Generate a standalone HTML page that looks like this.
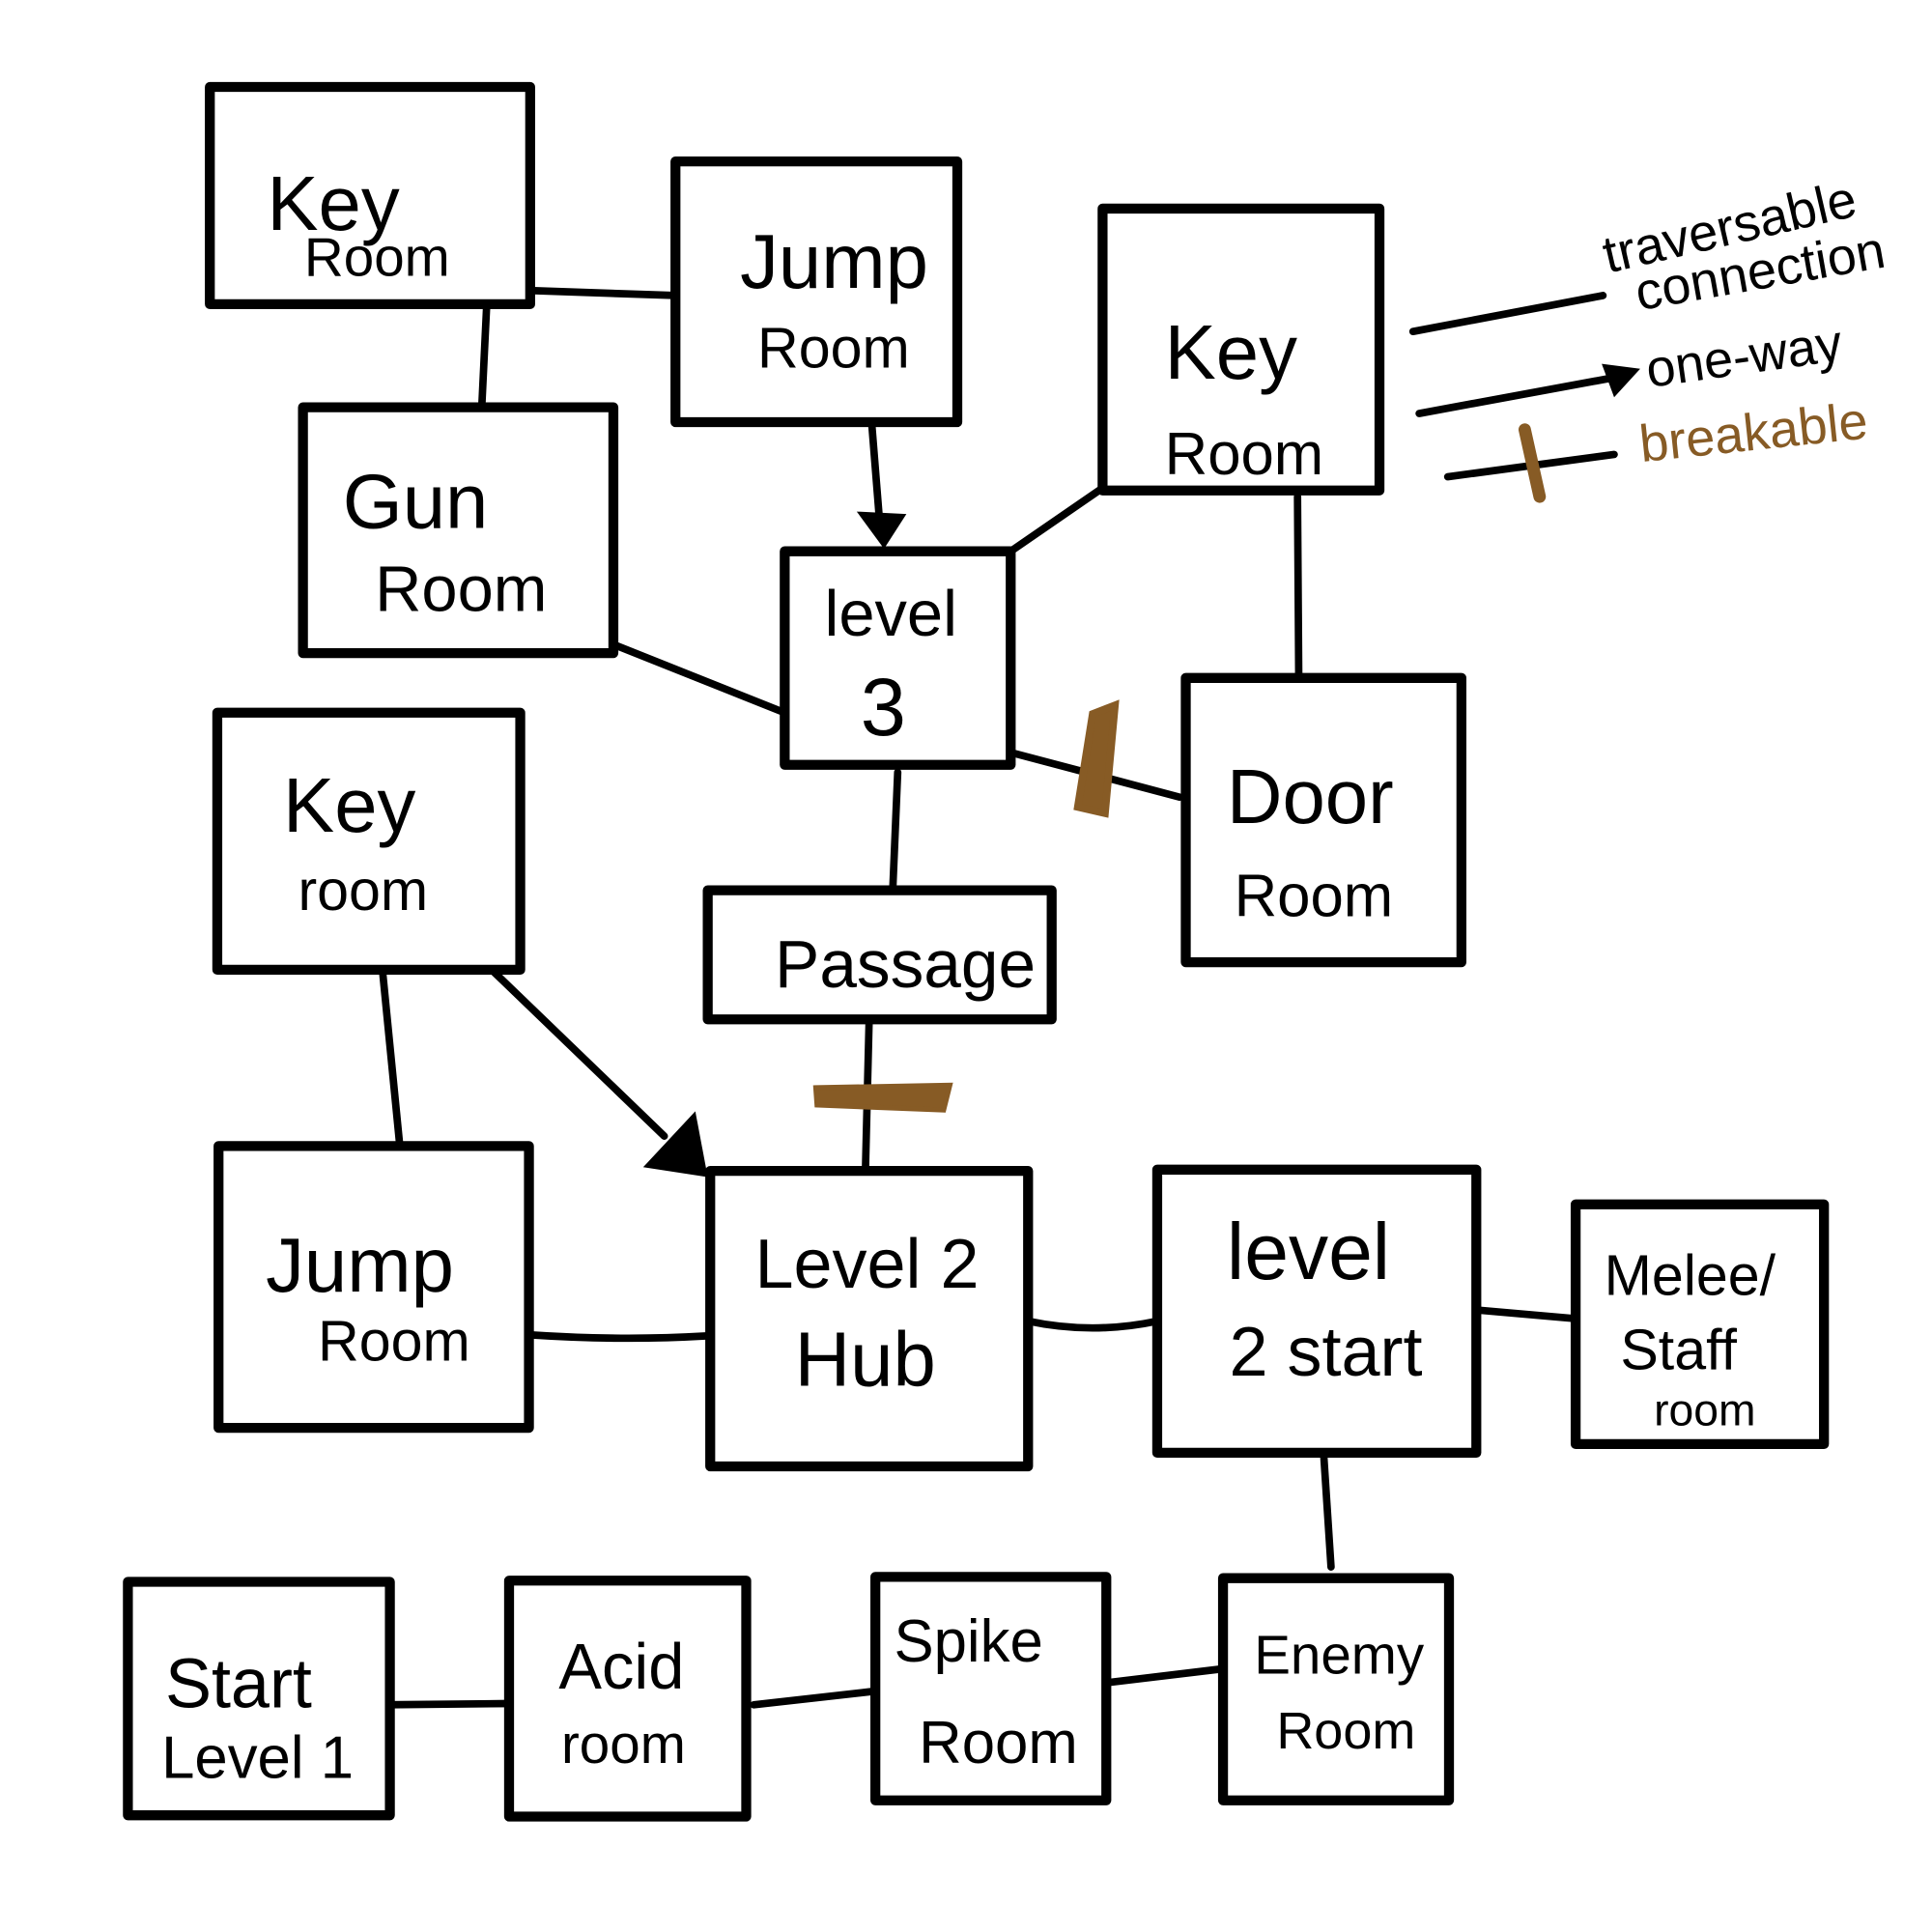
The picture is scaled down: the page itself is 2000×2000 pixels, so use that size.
<!DOCTYPE html>
<html><head><meta charset="utf-8"><style>
html,body{margin:0;padding:0;background:#fff;}
svg{display:block;}
text{font-family:"Liberation Sans",sans-serif;fill:#000;}
</style></head><body>
<svg width="2000" height="2000" viewBox="0 0 1556 1556" xmlns="http://www.w3.org/2000/svg">
<rect width="1556" height="1556" fill="#fff"/>
<g fill="none" stroke="#000" stroke-width="8" stroke-linejoin="round">
<rect x="169" y="70" width="258" height="175"/>
<rect x="544" y="130" width="227" height="210"/>
<rect x="888" y="168" width="223" height="227"/>
<rect x="244" y="328" width="250" height="198"/>
<rect x="632" y="444" width="182" height="172"/>
<rect x="175" y="574" width="244" height="207"/>
<rect x="570" y="717" width="277" height="104"/>
<rect x="955" y="546" width="222" height="229"/>
<rect x="176" y="923" width="250" height="227"/>
<rect x="572" y="943" width="256" height="238"/>
<rect x="932" y="942" width="257" height="228"/>
<rect x="1269" y="970" width="200" height="193"/>
<rect x="103" y="1274" width="211" height="188"/>
<rect x="410" y="1273" width="191" height="190"/>
<rect x="705" y="1270" width="186" height="180"/>
<rect x="985" y="1271" width="182" height="179"/>
</g>
<g fill="none" stroke="#000" stroke-width="6" stroke-linecap="round">
<line x1="427" y1="234" x2="544" y2="238"/>
<line x1="392" y1="245" x2="388" y2="328"/>
<line x1="702" y1="340" x2="708" y2="415"/>
<line x1="814" y1="444" x2="888" y2="393"/>
<line x1="1045" y1="400" x2="1046" y2="546"/>
<line x1="494" y1="519" x2="632" y2="574"/>
<line x1="814" y1="606" x2="950" y2="642"/>
<line x1="723" y1="622" x2="719" y2="717"/>
<line x1="700" y1="821" x2="697" y2="943"/>
<line x1="308" y1="781" x2="322" y2="923"/>
<line x1="398" y1="783" x2="535" y2="915"/>
<path d="M426 1075 Q500 1080 568 1076"/>
<path d="M828 1064 Q880 1075 932 1064"/>
<line x1="1189" y1="1055" x2="1269" y2="1062"/>
<line x1="1066" y1="1170" x2="1072" y2="1262"/>
<line x1="314" y1="1373" x2="410" y2="1372"/>
<line x1="607" y1="1373" x2="705" y2="1362"/>
<line x1="893" y1="1355" x2="985" y2="1344"/>
<line x1="1138" y1="267" x2="1291" y2="238"/>
<line x1="1143" y1="333" x2="1295" y2="305"/>
<line x1="1166" y1="384" x2="1300" y2="366"/>
</g>
<polygon points="690,412 730,414 712,442" fill="#000"/>
<polygon points="518,940 560,895 570,948" fill="#000"/>
<polygon points="1290,293 1321,297 1300,320" fill="#000"/>
<g stroke="#875b25" stroke-linecap="round" fill="none">
<line x1="1228" y1="346" x2="1240" y2="400" stroke-width="10"/>
<path d="M898 568 L880 575 L868 650 L890 655 Z" fill="#875b25" stroke-width="6"/>
<path d="M657 876 L765 874 L760 894 L658 890 Z" fill="#875b25" stroke-width="4"/>
</g>
<g font-size="62">
<text x="215" y="185">Key</text><text x="245" y="222" font-size="44">Room</text>
<text x="596" y="232">Jump</text><text x="610" y="296" font-size="46">Room</text>
<text x="938" y="305">Key</text><text x="938" y="382" font-size="48">Room</text>
<text x="276" y="425">Gun</text><text x="302" y="492" font-size="52">Room</text>
<text x="664" y="512" font-size="52">level</text><text x="693" y="592" font-size="66">3</text>
<text x="228" y="670">Key</text><text x="240" y="733" font-size="46">room</text>
<text x="624" y="795" font-size="54">Passage</text>
<text x="988" y="663">Door</text><text x="994" y="738" font-size="48">Room</text>
<text x="214" y="1040">Jump</text><text x="256" y="1096" font-size="46">Room</text>
<text x="608" y="1037" font-size="56">Level 2</text><text x="640" y="1116" font-size="62">Hub</text>
<text x="988" y="1030" font-size="64">level</text><text x="990" y="1108" font-size="56">2 start</text>
<text x="1292" y="1043" font-size="46">Melee/</text><text x="1305" y="1103" font-size="46">Staff</text><text x="1332" y="1148" font-size="36">room</text>
<text x="133" y="1375" font-size="56">Start</text><text x="130" y="1432" font-size="48">Level 1</text>
<text x="450" y="1360" font-size="52">Acid</text><text x="452" y="1420" font-size="44">room</text>
<text x="720" y="1338" font-size="48">Spike</text><text x="740" y="1420" font-size="48">Room</text>
<text x="1010" y="1348" font-size="44">Enemy</text><text x="1028" y="1408" font-size="42">Room</text>
</g>
<g font-size="42">
<text x="1295" y="220" transform="rotate(-13 1295 220)">traversable</text>
<text x="1320" y="250" transform="rotate(-10 1320 250)">connection</text>
<text x="1328" y="312" transform="rotate(-8 1328 312)">one-way</text>
<text x="1322" y="372" transform="rotate(-6 1322 372)" style="fill:#875b25">breakable</text>
</g>
</svg>
</body></html>
